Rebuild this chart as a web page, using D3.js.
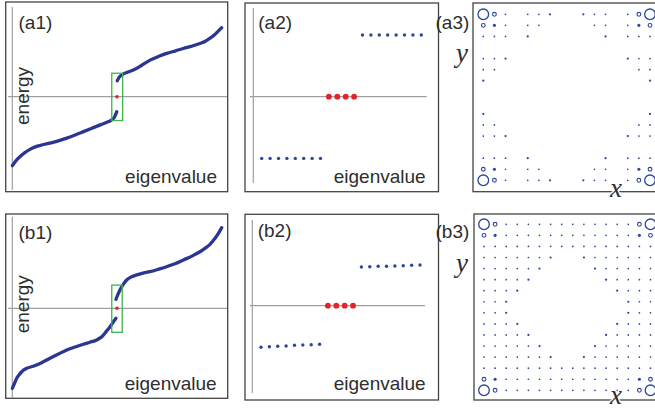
<!DOCTYPE html>
<html><head><meta charset="utf-8">
<script src="https://cdn.jsdelivr.net/npm/d3@7"></script>
<style>
html,body{margin:0;padding:0;background:#fff;}
svg{display:block;}
text{font-family:"Liberation Sans",Arial,sans-serif;fill:#2e2e2e;}
.var{font-family:"Liberation Serif","Times New Roman",serif;font-style:italic;}
</style></head>
<body>
<svg id="c" width="655" height="409"></svg>
<script>
// ---------- data ----------
const a1LowerIdx = [0,2,4,6,8,11,14,18,22,26,30,34,38,42,46,47.5,48.5,49.9];
const a1LowerE   = [-1.0,-0.92,-0.86,-0.81,-0.77,-0.727,-0.70,-0.672,-0.64,-0.60,-0.555,-0.506,-0.457,-0.408,-0.36,-0.337,-0.31,-0.217];
const a1UpperIdx = [50.1,51,52.2,55,57.8,62,65.8,70,73.7,78,81.7,86,89.6,92,94.3,97,100];
const a1UpperE   = [0.231,0.28,0.314,0.355,0.386,0.46,0.53,0.585,0.627,0.665,0.699,0.735,0.772,0.80,0.844,0.91,1.0];
const b1LowerIdx = [0,1,2.1,3.3,4.5,6.9,10,14,18,22,26,30,33.9,37,40.3,42,43.5,45,46.7,48,49.5];
const b1LowerE   = [-1.0,-0.94,-0.875,-0.83,-0.793,-0.75,-0.725,-0.68,-0.625,-0.572,-0.521,-0.484,-0.45,-0.425,-0.396,-0.37,-0.334,-0.285,-0.23,-0.18,-0.125];
const b1UpperIdx = [49.5,50.4,51.4,53,54.6,57,59.4,62,65.8,70,73.7,78,81.7,86,89.6,92,94.4,96.8,98.5,100];
const b1UpperE   = [0.113,0.17,0.229,0.30,0.354,0.395,0.417,0.437,0.458,0.49,0.52,0.56,0.604,0.655,0.707,0.75,0.80,0.875,0.94,1.008];
const zeroModeIdx = 50;
const a1Window = [47.5, 52.7, -0.345, 0.34];   // index range, energy range
const b1Window = [47.5, 52.5, -0.30, 0.29];

const a2LowerE = [-1,-1,-1,-1,-1,-1,-1,-1];
const a2ZeroE  = [0,0,0,0];
const a2UpperE = [1,1,1,1,1,1,1,1];
const b2LowerE = [-1.04,-1.025,-1.015,-1.008,-0.99,-0.983,-0.975,-0.965];
const b2ZeroE  = [0,0,0,0];
const b2UpperE = [0.968,0.975,0.985,0.985,0.993,1.0,1.01,1.018];

// site amplitudes: 0 none, 1 tiny, 2 small, 3 medium, 4 large, 5 largest
const a3Grid = [
 "5410112002110145",
 "4310110000110134",
 "1110200000020111",
 "0000000000000000",
 "1120000000000211",
 "1100000000000011",
 "2000000000000002",
 "0000000000000000",
 "0000000000000000",
 "2000000000000002",
 "1100000000000011",
 "1120000000000211",
 "0000000000000000",
 "1110200000020111",
 "4310110000110134",
 "5410112002110145"];
const b3Grid = [
 "5411111111111145",
 "4311111111111134",
 "1111111111111111",
 "1111112002111111",
 "1111120000211111",
 "1111200000021111",
 "1112000000002111",
 "1120000000000211",
 "1120000000000211",
 "1112000000002111",
 "1111200000021111",
 "1111120000211111",
 "1111112002111111",
 "1111111111111111",
 "4311111111111134",
 "5411111111111145"];

const labels = ["(a1)","(a2)","(a3)","(b1)","(b2)","(b3)"];

// ---------- styles ----------
const BLUE_LINE = "#2b3592";
const BLUE_DOT = "#2a4799";
const RED = "#e3222b";
const GREEN = "#3fb44b";
const AXIS = "#a0a0a0";
const FRAME = "#444";

const svg = d3.select("#c");

function frame(x0,y0,x1,y1){
  svg.append("rect").attr("x",x0).attr("y",y0).attr("width",x1-x0).attr("height",y1-y0)
    .attr("fill","none").attr("stroke",FRAME).attr("stroke-width",1.3);
}
function axisLines(xs, ys, vx0, vy0, vy1, hx0, hx1){
  svg.append("line").attr("x1",xs(vx0)).attr("x2",xs(vx0)).attr("y1",vy0).attr("y2",vy1)
    .attr("stroke",AXIS).attr("stroke-width",1.2);
  svg.append("line").attr("x1",hx0).attr("x2",hx1).attr("y1",ys(0)).attr("y2",ys(0))
    .attr("stroke",AXIS).attr("stroke-width",1.2);
}

// ---------- spectrum panels (a1, b1) ----------
function spectrum(cfg){
  frame(...cfg.frame);
  const xs = d3.scaleLinear().domain([0,100]).range(cfg.xr);
  const ys = d3.scaleLinear().domain([-1,1]).range(cfg.yr);
  axisLines(xs, ys, 0, cfg.vy[0], cfg.vy[1], cfg.hx[0], cfg.hx[1]);
  const line = d3.line().x(d=>xs(d[0])).y(d=>ys(d[1])).curve(d3.curveMonotoneX);
  [[cfg.li,cfg.le],[cfg.ui,cfg.ue]].forEach(([ix,ev])=>{
    svg.append("path").datum(ix.map((v,i)=>[v,ev[i]])).attr("d",line)
      .attr("fill","none").attr("stroke",BLUE_LINE).attr("stroke-width",3.3)
      .attr("stroke-linecap","round").attr("stroke-linejoin","round");
  });
  const w = cfg.win;
  svg.append("rect").attr("x",xs(w[0])).attr("y",ys(w[3]))
    .attr("width",xs(w[1])-xs(w[0])).attr("height",ys(w[2])-ys(w[3]))
    .attr("fill","none").attr("stroke",GREEN).attr("stroke-width",1.3);
  svg.append("circle").attr("cx",xs(zeroModeIdx)).attr("cy",ys(0)).attr("r",1.8).attr("fill",RED);
}
spectrum({frame:[5.7,2,227.7,191.7], xr:[12.3,221.7], yr:[165.7,27.7], vy:[7,190], hx:[8,227],
  li:a1LowerIdx, le:a1LowerE, ui:a1UpperIdx, ue:a1UpperE, win:a1Window});
spectrum({frame:[5.7,214,227.7,398.3], xr:[12.3,221.7], yr:[388.3,228.3], vy:[216.7,398], hx:[8,227],
  li:b1LowerIdx, le:b1LowerE, ui:b1UpperIdx, ue:b1UpperE, win:b1Window});

// ---------- zoomed levels (a2, b2) ----------
function levels(cfg){
  frame(...cfg.frame);
  const all = cfg.lower.concat(cfg.zero, cfg.upper);
  const xs = d3.scaleLinear().domain([0, all.length-1]).range(cfg.xr);
  const ys = d3.scaleLinear().domain([-1,1]).range(cfg.yr);
  svg.append("line").attr("x1",cfg.vx).attr("x2",cfg.vx).attr("y1",cfg.vy[0]).attr("y2",cfg.vy[1])
    .attr("stroke",AXIS).attr("stroke-width",1.2);
  svg.append("line").attr("x1",cfg.hx[0]).attr("x2",cfg.hx[1]).attr("y1",ys(0)).attr("y2",ys(0))
    .attr("stroke",AXIS).attr("stroke-width",1.2);
  const nL = cfg.lower.length, nZ = cfg.zero.length;
  svg.append("g").selectAll("circle").data(all).join("circle")
    .attr("cx",(d,i)=>xs(i)).attr("cy",d=>ys(d))
    .attr("r",(d,i)=> (i>=nL && i<nL+nZ) ? 2.9 : 1.7)
    .attr("fill",(d,i)=> (i>=nL && i<nL+nZ) ? RED : BLUE_DOT);
}
levels({frame:[245,3,438.5,191.7], xr:[261.7,421.3], yr:[158.4,35], vx:253.3, vy:[8,183], hx:[250,426.7],
  lower:a2LowerE, zero:a2ZeroE, upper:a2UpperE});
levels({frame:[245,214.3,438.5,400], xr:[261,420], yr:[345.7,265.7], vx:252.3, vy:[220,393], hx:[250,425],
  lower:b2LowerE, zero:b2ZeroE, upper:b2UpperE});

// ---------- real-space amplitude maps (a3, b3) ----------
const rScale = d3.scaleOrdinal().domain([1,2,3,4,5]).range([0.85,1.1,1.55,1.9,5.3]);
function amplitudeMap(cfg){
  frame(...cfg.frame);
  const n = cfg.grid.length;
  const xs = d3.scalePoint().domain(d3.range(n)).range(cfg.xr);
  const ys = d3.scalePoint().domain(d3.range(n)).range(cfg.yr);
  const sites = [];
  cfg.grid.forEach((row,r)=>row.split("").forEach((ch,c)=>{ const v=+ch; if(v>0) sites.push({r,c,v}); }));
  svg.append("g").selectAll("circle").data(sites).join("circle")
    .attr("cx",d=>xs(d.c)).attr("cy",d=>ys(d.r)).attr("r",d=>rScale(d.v))
    .attr("fill",d=>d.v>=4?"none":BLUE_DOT)
    .attr("stroke",d=>d.v>=4?BLUE_DOT:"none")
    .attr("stroke-width",d=>d.v===5?1.3:1.1);
}
amplitudeMap({frame:[473,3,663,191.7], xr:[483.3,650], yr:[14.3,180.3], grid:a3Grid});
amplitudeMap({frame:[474,214,663,400], xr:[484,650.5], yr:[224.3,390.3], grid:b3Grid});

// ---------- text ----------
const fs = 19;
function txt(s,x,y,anchor){ return svg.append("text").attr("x",x).attr("y",y).attr("font-size",fs)
  .attr("text-anchor",anchor||"start").text(s); }
txt(labels[0],18.5,29);
txt(labels[1],258.3,29.3);
txt(labels[2],435.5,29.3);
txt(labels[3],18.5,239.3);
txt(labels[4],257.7,236.7);
txt(labels[5],435.5,238.3);
txt("eigenvalue",217,182.7,"end");
txt("eigenvalue",425.7,182.7,"end");
txt("eigenvalue",216.7,390,"end");
txt("eigenvalue",425.7,390,"end");
svg.append("text").attr("transform","translate(29,125) rotate(-90)").attr("font-size",fs).text("energy");
svg.append("text").attr("transform","translate(29,333.3) rotate(-90)").attr("font-size",fs).text("energy");
function v(s,x,y){ svg.append("text").attr("class","var").attr("x",x).attr("y",y).attr("font-size",27)
  .attr("stroke","#fff").attr("stroke-width",2.5).attr("paint-order","stroke").text(s); }
v("y",456,62);
v("y",456,272);
v("x",610,196.5);
v("x",610,403.5);
</script>
</body></html>
